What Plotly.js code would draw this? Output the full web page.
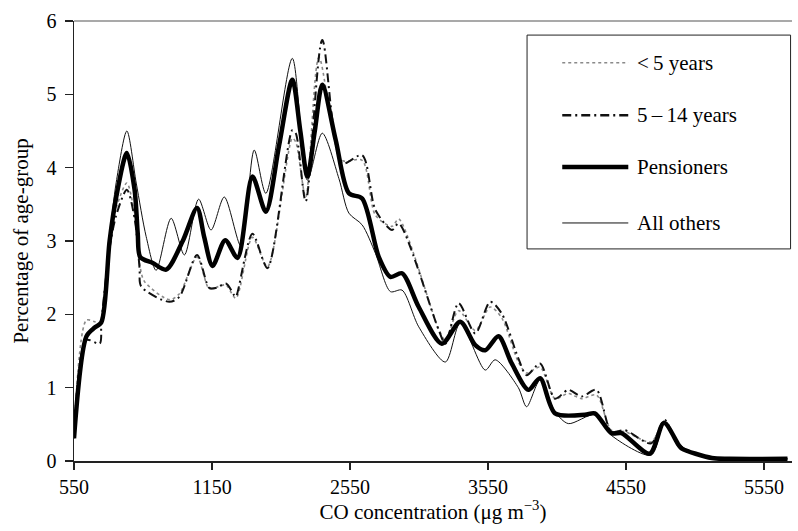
<!DOCTYPE html>
<html>
<head>
<meta charset="utf-8">
<script src="https://cdn.plot.ly/plotly-3.0.1.min.js"></script>
<style>html,body{margin:0;padding:0;background:#fff;}#chart{width:798px;height:531px;}</style>
</head>
<body>
<div id="chart"></div>
<script>
// CO concentration (µg m^-3) and percentage of age-group
const under5X = [550,640,700,748,808,856,933,990,1025,1060,1241,1314,1442,1530,1600,1651,1723,1843,1952,2132,2157,2229,2325,2494,2638,2735,2855,2903,3192,3241,3337,3458,3566,3650,3770,3830,3927,4036,4132,4228,4336,4444,4541,4733,4830,4931,5172,5300,5720];
const under5Y = [0.31,1.92,1.90,1.88,2.95,3.45,3.79,3.35,2.70,2.45,2.20,2.28,2.78,2.35,2.38,2.40,2.22,3.05,2.65,4.40,4.35,3.60,5.50,4.10,4.10,3.35,3.20,3.30,1.80,1.65,2.05,1.78,2.10,1.95,1.35,1.20,1.28,0.85,0.92,0.85,0.90,0.42,0.40,0.26,0.55,0.22,0.05,0.03,0.03];

const age514X = [550,640,736,748,808,856,933,990,1025,1037,1241,1314,1442,1530,1579,1651,1711,1723,1843,1952,2132,2157,2229,2349,2494,2638,2735,2855,2903,3192,3241,3337,3458,3566,3650,3770,3830,3927,4036,4132,4228,4336,4444,4541,4733,4830,4931,5172,5300,5720];
const age514Y = [0.31,1.65,1.60,1.88,2.90,3.35,3.70,3.30,2.63,2.38,2.17,2.24,2.81,2.36,2.36,2.42,2.26,2.24,3.10,2.63,4.51,4.47,3.54,5.74,4.06,4.17,3.42,3.15,3.24,1.79,1.60,2.15,1.74,2.17,2.01,1.40,1.17,1.33,0.85,0.97,0.88,0.97,0.40,0.42,0.24,0.56,0.22,0.04,0.03,0.03];

const pensX = [550,640,700,748,808,856,933,989,1012,1030,1121,1218,1338,1442,1494,1554,1646,1735,1843,1940,2036,2132,2190,2241,2295,2349,2446,2542,2638,2759,2843,2927,3048,3216,3349,3458,3530,3626,3722,3843,3927,4036,4252,4324,4444,4517,4722,4825,4931,4955,5172,5300,5720];
const pensY = [0.31,1.70,1.82,1.89,3.00,3.60,4.20,3.70,3.10,2.78,2.70,2.61,3.00,3.45,3.05,2.66,3.01,2.77,3.88,3.40,4.30,5.20,4.50,3.88,4.50,5.13,4.38,3.65,3.58,2.78,2.51,2.56,2.10,1.60,1.90,1.58,1.51,1.70,1.33,0.97,1.13,0.65,0.63,0.65,0.38,0.38,0.10,0.52,0.22,0.17,0.04,0.03,0.03];

const othersX = [550,640,700,748,808,856,933,1001,1073,1145,1254,1350,1453,1543,1639,1760,1856,1940,2132,2241,2349,2470,2542,2638,2735,2843,2927,3048,3241,3349,3530,3602,3770,3830,3927,4036,4132,4324,4444,4733,4825,4931,5172,5300,5720];
const othersY = [0.31,1.70,1.82,1.89,3.05,3.80,4.50,3.79,3.06,2.60,3.31,2.81,3.57,3.15,3.60,2.93,4.24,3.65,5.49,3.83,4.47,3.85,3.38,3.22,2.83,2.31,2.33,1.83,1.35,1.88,1.24,1.38,1.00,0.74,1.10,0.67,0.51,0.63,0.35,0.08,0.50,0.22,0.04,0.03,0.03];

const seriesNames = ['<\u20095 years', '5\u2009\u2013\u200914 years', 'Pensioners', 'All others'];
const xTickVals = [550,1550,2550,3550,4550,5550];
const xTickText = ['550','1150','2550','3550','4550','5550'];
const yTickVals = [0,1,2,3,4,5,6];

const FONT = 'Liberation Serif, Times New Roman, serif';
const INK = '#000';

const traces = [
  {x: under5X, y: under5Y, name: seriesNames[0], mode:'lines', line:{color:'#8a8a8a', width:1.6, dash:'3px,3px', shape:'spline', smoothing:0.8}},
  {x: age514X, y: age514Y, name: seriesNames[1], mode:'lines', line:{color:'#111', width:2, dash:'9px,4px,2px,4px', shape:'spline', smoothing:0.8}},
  {x: othersX, y: othersY, name: seriesNames[3], mode:'lines', line:{color:'#111', width:1, shape:'spline', smoothing:0.8}},
  {x: pensX, y: pensY, name: seriesNames[2], mode:'lines', line:{color:'#000', width:4.5, shape:'spline', smoothing:0.8}}
];

// custom legend positions (paper coords)
const legRows = [0.905, 0.786, 0.668, 0.541];
const legStyles = [
  {color:'#8a8a8a', width:1.6, dash:'3px,3px'},
  {color:'#111', width:2.5, dash:'9px,4px,2px,4px'},
  {color:'#000', width:4.5},
  {color:'#111', width:1}
];
const shapes = [
  {type:'line', xref:'paper', yref:'paper', x0:0, x1:1, y0:1, y1:1, line:{color:'#8c8c8c', width:1.5}},
  {type:'rect', xref:'paper', yref:'paper', x0:0.631, x1:0.998, y0:0.482, y1:0.968, line:{color:'#222', width:1}, fillcolor:'#fff'}
];
const annotations = [];
legRows.forEach((yy, i) => {
  shapes.push({type:'line', xref:'paper', yref:'paper', x0:0.680, x1:0.772, y0:yy, y1:yy, line:legStyles[i]});
  annotations.push({xref:'paper', yref:'paper', x:0.781, y:yy, xanchor:'left', yanchor:'middle', showarrow:false,
    text: seriesNames[i], font:{family:FONT, size:21, color:INK}});
});

const layout = {
  width:798, height:531,
  margin:{l:74, r:6, t:21, b:70},
  paper_bgcolor:'#fff', plot_bgcolor:'#fff',
  showlegend:false,
  font:{family:FONT, size:20, color:INK},
  xaxis:{
    range:[550, 5753], tickvals:xTickVals, ticktext:xTickText,
    showgrid:false, zeroline:false, showline:true, linecolor:'#222', linewidth:1.5,
    ticks:'outside', ticklen:7, tickcolor:'#222', tickwidth:1.2,
    tickfont:{family:FONT, size:20, color:INK},
    title:{text:'CO concentration (μg m<sup>−3</sup>)', font:{family:FONT, size:21, color:INK}, standoff:6}
  },
  yaxis:{
    range:[0,6], tickvals:yTickVals,
    showgrid:false, zeroline:false, showline:true, linecolor:'#222', linewidth:1.5,
    ticks:'outside', ticklen:8, tickcolor:'#222', tickwidth:1.2, ticklabelstandoff:4,
    tickfont:{family:FONT, size:20, color:INK},
    title:{text:'Percentage of age-group', font:{family:FONT, size:21, color:INK}, standoff:12}
  },
  shapes: shapes,
  annotations: annotations
};

Plotly.newPlot('chart', traces, layout, {staticPlot:true, displayModeBar:false});
</script>
</body>
</html>
